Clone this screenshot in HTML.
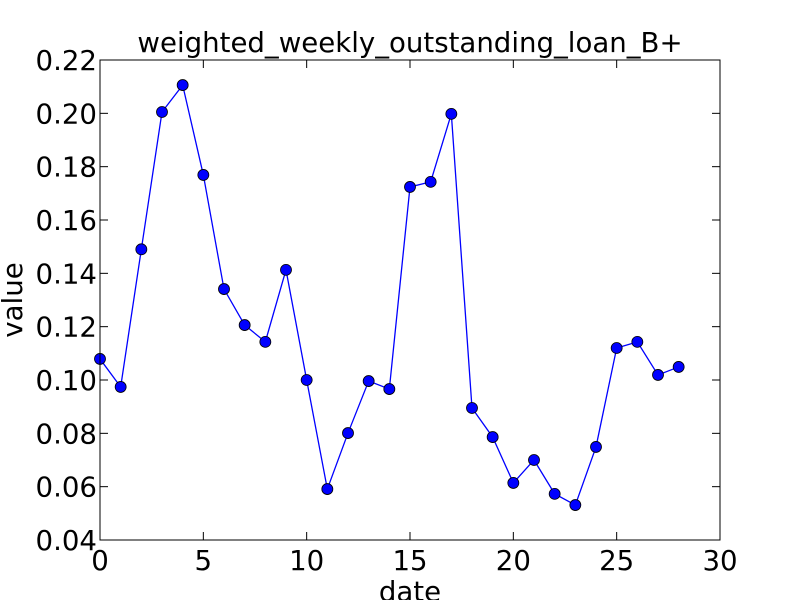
<!DOCTYPE html>
<html><head><meta charset="utf-8"><style>body{margin:0;background:#fff}svg{display:block;font-family:"DejaVu Sans","Liberation Sans",sans-serif}</style></head>
<body>
<svg id="chart" width="800" height="600" viewBox="0 0 800 600" xmlns="http://www.w3.org/2000/svg">
<rect width="800" height="600" fill="#fff"/>
<g id="ticks"></g>
<polyline id="line" fill="none" stroke="#0000ff" stroke-width="1.3"/>
<g id="points"></g>
<rect x="100" y="60" width="620" height="480" fill="none" stroke="#000" stroke-width="1"/>
<text x="410" y="52" font-size="27.6" text-anchor="middle">weighted_weekly_outstanding_loan_B+</text>
<text x="410" y="601" font-size="27.6" text-anchor="middle">date</text>
<text x="0" y="0" font-size="27.6" text-anchor="middle" transform="translate(22,300) rotate(-90)">value</text>
</svg>
<script>
const dates=[0,1,2,3,4,5,6,7,8,9,10,11,12,13,14,15,16,17,18,19,20,21,22,23,24,25,26,27,28];
const values=[0.1079,0.0974,0.149,0.2005,0.2106,0.1769,0.1341,0.1206,0.1143,0.1413,0.100,0.0591,0.0801,0.0996,0.0966,0.1724,0.1743,0.1998,0.0895,0.0786,0.0614,0.070,0.0573,0.0531,0.0749,0.112,0.1143,0.1019,0.1049];
const xTicks=[0,5,10,15,20,25,30];
const yTicks=[0.04,0.06,0.08,0.10,0.12,0.14,0.16,0.18,0.20,0.22];
const NS="http://www.w3.org/2000/svg";
const X=v=>100+(v-0)/30*620;
const Y=v=>540-(v-0.04)/0.18*480;
const tg=document.getElementById('ticks');
function mk(tag,attrs,parent){const e=document.createElementNS(NS,tag);for(const k in attrs)e.setAttribute(k,attrs[k]);parent.appendChild(e);return e;}
xTicks.forEach(t=>{const x=X(t);
const l1=mk('line',{x1:x,x2:x,y1:540,y2:532,stroke:'#000'},tg);


mk('line',{x1:x,x2:x,y1:60,y2:68,stroke:'#000'},tg);
const tx=mk('text',{x:x,y:570,'font-size':27.6,'text-anchor':'middle'},tg);tx.textContent=t;

});
yTicks.forEach(t=>{const y=Y(t);
const l1=mk('line',{x1:100,x2:108,y1:y,y2:y,stroke:'#000'},tg);


mk('line',{x1:712,x2:720,y1:y,y2:y,stroke:'#000'},tg);
const tx=mk('text',{x:97,y:y+10,'font-size':27.6,'text-anchor':'end'},tg);tx.textContent=t.toFixed(2);

});
document.getElementById('line').setAttribute('points',dates.map((d,i)=>X(d)+','+Y(values[i])).join(' '));
const pg=document.getElementById('points');
dates.forEach((d,i)=>{const c=mk('circle',{cx:X(d),cy:Y(values[i]),r:5.5,fill:'#0000ff',stroke:'#000','stroke-width':0.8},pg);

});
</script>
</body></html>
